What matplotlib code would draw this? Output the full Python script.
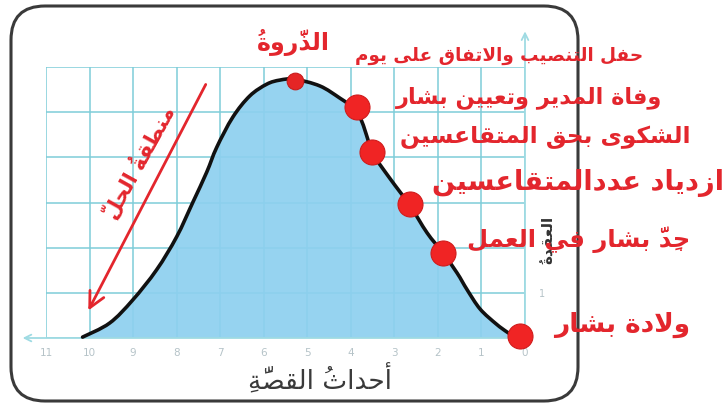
import matplotlib
matplotlib.use("Agg")
import matplotlib.pyplot as plt
from matplotlib.patches import FancyBboxPatch, FancyArrowPatch, PathPatch
from matplotlib.path import Path
from matplotlib.transforms import IdentityTransform

# ---------------- data ----------------
x_ticks = [0, 1, 2, 3, 4, 5, 6, 7, 8, 9, 10, 11]
y_ticks = [0, 1, 2, 3, 4, 5, 6]
y_tick_labels = ['', '1', '', '', '', '', '']

curve_x = [10.16, 9.54, 9.01, 8.46, 8.00, 7.63, 7.31, 7.08, 6.71, 6.32, 5.93, 5.63,
           5.29, 4.71, 4.25, 3.91, 3.75, 3.61, 3.52, 3.10, 2.64, 2.25, 1.89,
           1.56, 1.33, 1.03, 0.66, 0.41, 0.23]
curve_y = [0.02, 0.33, 0.84, 1.51, 2.24, 3.00, 3.67, 4.22, 4.89, 5.36, 5.62, 5.71,
           5.73, 5.58, 5.31, 5.07, 4.80, 4.40, 4.11, 3.53, 2.93, 2.33, 1.89,
           1.44, 1.07, 0.64, 0.31, 0.13, 0.02]

dot_x = [5.29, 3.86, 3.52, 2.64, 1.89, 0.12]
dot_y = [5.69, 5.11, 4.11, 2.96, 1.89, 0.05]

peak_label = "الذَّروةُ"
event_labels = [
    "حفل التنصيب والاتفاق على يوم",
    "وفاة المدير وتعيين بشار",
    "الشكوى بحق المتقاعسين",
    "ازدياد عددالمتقاعسين",
    "جِدَّ بشار في العمل",
    "ولادة بشار",
]
x_label = "أحداثُ القصَّةِ"
y_label = "العقدةُ"
solution_label = "منطقةُ الحلِّ"

# ---------------- minimal Arabic shaping (presentation forms, visual order) ----
RJ = {'\u0622': 0xFE81, '\u0623': 0xFE83, '\u0624': 0xFE85, '\u0625': 0xFE87,
      '\u0627': 0xFE8D, '\u0629': 0xFE93, '\u062F': 0xFEA9, '\u0630': 0xFEAB,
      '\u0631': 0xFEAD, '\u0632': 0xFEAF, '\u0648': 0xFEED, '\u0649': 0xFEEF}
DJ = {'\u0626': 0xFE89, '\u0628': 0xFE8F, '\u062A': 0xFE95, '\u062B': 0xFE99,
      '\u062C': 0xFE9D, '\u062D': 0xFEA1, '\u062E': 0xFEA5, '\u0633': 0xFEB1,
      '\u0634': 0xFEB5, '\u0635': 0xFEB9, '\u0636': 0xFEBD, '\u0637': 0xFEC1,
      '\u0638': 0xFEC5, '\u0639': 0xFEC9, '\u063A': 0xFECD, '\u0641': 0xFED1,
      '\u0642': 0xFED5, '\u0643': 0xFED9, '\u0644': 0xFEDD, '\u0645': 0xFEE1,
      '\u0646': 0xFEE5, '\u0647': 0xFEE9, '\u064A': 0xFEF1}
LAMALEF = {'\u0622': 0xFEF5, '\u0623': 0xFEF7, '\u0625': 0xFEF9, '\u0627': 0xFEFB}
MARKS = set(chr(c) for c in range(0x064B, 0x0653)) | {'\u0670'}


def shape(text):
    chars = list(text)
    clusters = []
    i = 0
    while i < len(chars):
        c = chars[i]
        if c in MARKS:
            if clusters:
                clusters[-1][1] += c
            i += 1
            continue
        if c == '\u0644':
            j = i + 1
            m = ''
            while j < len(chars) and chars[j] in MARKS:
                m += chars[j]
                j += 1
            if j < len(chars) and chars[j] in LAMALEF:
                clusters.append([c, m, 'R', LAMALEF[chars[j]]])
                i = j + 1
                continue
        if c in DJ:
            clusters.append([c, '', 'D', DJ[c]])
        elif c in RJ:
            clusters.append([c, '', 'R', RJ[c]])
        else:
            clusters.append([c, '', 'U', None])
        i += 1
    out = []
    for k, (c, m, kind, code) in enumerate(clusters):
        prev = clusters[k - 1] if k > 0 else None
        nxt = clusters[k + 1] if k + 1 < len(clusters) else None
        jp = kind in 'DR' and prev is not None and prev[2] == 'D'
        jn = kind == 'D' and nxt is not None and nxt[2] in 'DR'
        if code is None:
            g = c
        elif kind == 'R':
            g = chr(code + (1 if jp else 0))
        else:
            g = chr(code + (3 if (jp and jn) else 1 if jp else 2 if jn else 0))
        # zero-advance marks overlay the glyph drawn right after them
        out.append(m + g)
    return ''.join(reversed(out))


def smooth_path(xs, ys, close_to_base=False):
    """Bezier path passing through the given points (Catmull-Rom tangents)."""
    pts = list(zip(xs, ys))
    n = len(pts)
    verts = [pts[0]]
    codes = [Path.MOVETO]
    for i in range(n - 1):
        p0 = pts[i - 1] if i > 0 else pts[i]
        p1 = pts[i]
        p2 = pts[i + 1]
        p3 = pts[i + 2] if i + 2 < n else pts[i + 1]
        c1 = (p1[0] + (p2[0] - p0[0]) / 6, p1[1] + (p2[1] - p0[1]) / 6)
        c2 = (p2[0] - (p3[0] - p1[0]) / 6, p2[1] - (p3[1] - p1[1]) / 6)
        verts += [c1, c2, p2]
        codes += [Path.CURVE4] * 3
    if close_to_base:
        verts += [(pts[-1][0], 0), (pts[0][0], 0), pts[0]]
        codes += [Path.LINETO, Path.LINETO, Path.CLOSEPOLY]
    return Path(verts, codes)


# ---------------- figure ----------------
W, H = 725, 407
plt.rcParams['font.family'] = ['DejaVu Sans']
fig = plt.figure(figsize=(W / 100, H / 100), dpi=100)
fig.patch.set_facecolor('white')


def fx(px):
    return px / W


def fy(py):
    return 1 - py / H


# rounded frame
frame = FancyBboxPatch((11, 6), 567, 395, boxstyle='round,pad=0,rounding_size=34',
                       transform=IdentityTransform(), facecolor='none',
                       edgecolor='#3a3a3a', linewidth=2.2, zorder=-1)
fig.patches.append(frame)

ax = fig.add_axes([fx(46), fy(338), (525 - 46) / W, (338 - 67) / H])
ax.set_facecolor('none')
ax.set_xlim(11, 0)
ax.set_ylim(0, 6)
for s in ax.spines.values():
    s.set_visible(False)

grid_c = '#7fcdd8'
ax.set_xticks(x_ticks)
ax.set_xticklabels([str(v) for v in x_ticks])
ax.set_yticks(y_ticks)
ax.set_yticklabels(y_tick_labels)
ax.yaxis.tick_right()
ax.tick_params(axis='x', length=0, pad=7, labelsize=7.5, labelcolor='#b5c3c8')
ax.tick_params(axis='y', length=0, pad=10, labelsize=7, labelcolor='#b5c3c8')
ax.grid(True, color=grid_c, linewidth=1.1, zorder=0)
ax.set_axisbelow(True)

# axes with arrows
ax.annotate('', xy=(11.6, 0), xytext=(0, 0), annotation_clip=False,
            arrowprops=dict(arrowstyle='->', color='#9fdbe3', lw=1.3,
                            mutation_scale=12))
ax.annotate('', xy=(0, 6.85), xytext=(0, 0), annotation_clip=False,
            arrowprops=dict(arrowstyle='->', color='#9fdbe3', lw=1.3,
                            mutation_scale=12))

# curve + fill
ax.add_patch(PathPatch(smooth_path(curve_x, curve_y, close_to_base=True),
                       facecolor='#8dd0ef', alpha=0.92, edgecolor='none',
                       zorder=2))
ax.add_patch(PathPatch(smooth_path(curve_x, curve_y), facecolor='none',
                       edgecolor='#111111', lw=2.6, zorder=3,
                       capstyle='round', joinstyle='round', clip_on=False))

# dots
ax.plot(dot_x[:1], dot_y[:1], 'o', ms=12, color='#e52525', mec='#c81c1c',
        mew=0.8, zorder=5, clip_on=False)
ax.plot(dot_x[1:], dot_y[1:], 'o', ms=18, color='#f02424', mec='#d01c1c',
        mew=0.8, zorder=5, clip_on=False)

red = '#e3262d'
# peak label
fig.text(fx(293), fy(42), shape(peak_label), color=red, fontsize=17,
         fontweight='bold', ha='center', va='center')

# event labels (right aligned)
ev_pos = [(643, 56, 13.2), (662, 98, 16.2), (690, 137, 16.8), (724, 183, 19.6),
          (690, 240, 17.5), (690, 325, 19.0)]
for lab, (xr, yc, fs) in zip(event_labels, ev_pos):
    fig.text(fx(xr), fy(yc), shape(lab), color=red, fontsize=fs,
             fontweight='bold', ha='right', va='center', zorder=6)

# axis labels
fig.text(fx(320), fy(380), shape(x_label), color='#3a3a3a', fontsize=19,
         ha='center', va='center')
fig.text(fx(548), fy(240), shape(y_label), color='#333333', fontsize=11,
         fontweight='bold', rotation=90, ha='center', va='center', zorder=1)

# solution-zone arrow and label
fig.patches.append(
    FancyArrowPatch((207 / W, 1 - 82 / H), (87 / W, 1 - 313 / H),
                    transform=fig.transFigure, arrowstyle='->', mutation_scale=28,
                    color=red, lw=2.0, zorder=7))
fig.text(fx(138), fy(162), shape(solution_label), color=red, fontsize=15,
         fontweight='bold', rotation=61, ha='center', va='center',
         rotation_mode='anchor')

fig.savefig('out.png', dpi=100)
